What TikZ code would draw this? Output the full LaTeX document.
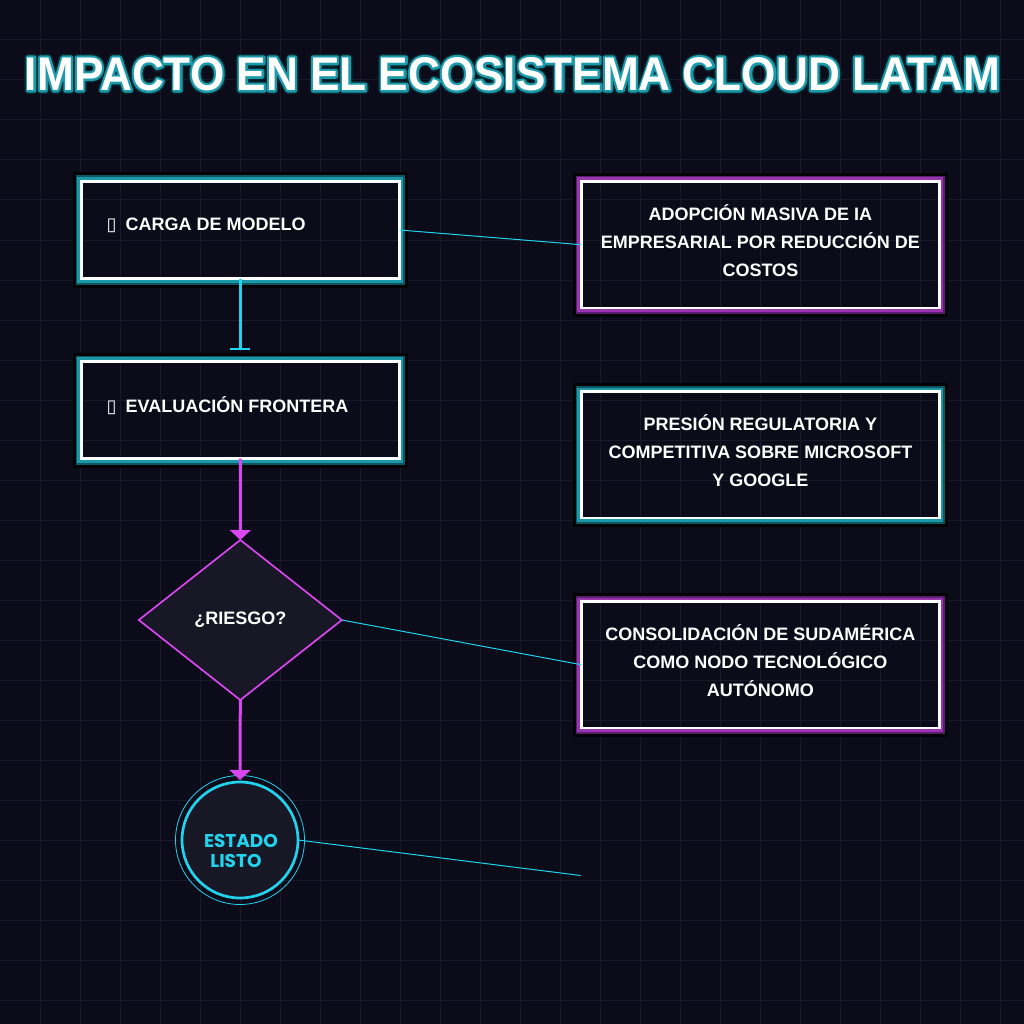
\documentclass[tikz,border=0pt]{standalone}
\usepackage{fontspec}
\usepackage{graphicx}
\setmainfont{Liberation Sans}
\newfontfamily\popfont{Poppins}
\newfontfamily\symfont{DejaVu Sans}
\usetikzlibrary{arrows.meta,shapes.geometric}
\definecolor{bg}{HTML}{0B0B1A}
\definecolor{gridc}{HTML}{191929}
\definecolor{cyanc}{HTML}{22D3EE}
\definecolor{magc}{HTML}{D946EF}
\definecolor{tealA}{HTML}{1A98A8}
\definecolor{tealB}{HTML}{0D5560}
\definecolor{purA}{HTML}{9A35B0}
\definecolor{purB}{HTML}{5A1E6E}
\definecolor{nodefill}{HTML}{171726}
\definecolor{edgec}{HTML}{030306}
\definecolor{ttlglow}{HTML}{1A9AAA}
\definecolor{ttldark}{HTML}{08282E}
\newcommand{\ttltext}{\resizebox{975pt}{33pt}{\bfseries\fontsize{46}{50}\selectfont IMPACTO EN EL ECOSISTEMA CLOUD LATAM}}
\newcommand{\strokedttl}[1]{\special{pdf:literal direct #1 w 1 j 2 Tr}\ttltext\special{pdf:literal direct 0 Tr}}
\newcommand{\glowbox}[3]{%
  \draw[edgec, line width=3pt] ([shift={(-7.3,-7.3)}]#1.north west) rectangle ([shift={(7.3,7.3)}]#1.south east);
  \draw[#3, line width=2pt] ([shift={(-4.8,-4.8)}]#1.north west) rectangle ([shift={(4.8,4.8)}]#1.south east);
  \draw[#2, line width=2.7pt] ([shift={(-2.5,-2.5)}]#1.north west) rectangle ([shift={(2.5,2.5)}]#1.south east);
}
\tikzset{
  card/.style={draw=white, line width=2.7pt, outer sep=0pt, inner sep=0pt, rectangle},
  smallcard/.style={card, minimum width=318.2pt, minimum height=97.4pt},
  bigcard/.style={card, minimum width=358.2pt, minimum height=126.7pt},
  lbl/.style={text=white, font=\bfseries\fontsize{18}{28}\selectfont, inner sep=0pt},
  cardtext/.style={lbl, align=center},
  flowM/.style={magc, line width=3pt, -{Triangle[width=20.7pt,length=10pt]}},
  thinlink/.style={cyanc, line width=1pt},
}
\begin{document}
\begin{tikzpicture}[x=1pt,y=-1pt]
  \fill[bg] (0,0) rectangle (1024,1024);
  \useasboundingbox (0,0) rectangle (1024,1024);
  \foreach \g in {40,80,...,1000} {
    \draw[gridc, line width=1pt] (\g,0) -- (\g,1024);
    \draw[gridc, line width=1pt] (0,\g) -- (1024,\g);
  }
  % title with outline
  \node[text=ttldark, inner sep=0pt] (tdark) at (512.5,74) {\strokedttl{7.5}};
  \node[text=ttlglow, inner sep=0pt] (tglow) at (512.5,74) {\strokedttl{4.5}};
  \node[text=white, inner sep=0pt] (title) at (512.5,74) {\ttltext};

  % left cards
  \node[smallcard] (b1) at (240.4,230) {};
  \node[smallcard] (b2) at (240.4,410) {};
  \glowbox{b1}{tealA}{tealB}
  \glowbox{b2}{tealA}{tealB}
  \node[lbl, anchor=west] (b1t) at (106.5,225.5) {{\symfont ▯}\hspace{4pt} CARGA DE MODELO};
  \node[lbl, anchor=west] (b2t) at (106.5,405.5) {{\symfont ▯}\hspace{4pt} EVALUACIÓN FRONTERA};

  % right cards
  \node[bigcard] (bA) at (760.4,244.7) {};
  \node[bigcard] (bB) at (760.4,454.7) {};
  \node[bigcard] (bC) at (760.4,664.7) {};
  \glowbox{bA}{purA}{purB}
  \glowbox{bB}{tealA}{tealB}
  \glowbox{bC}{purA}{purB}
  \node[cardtext] (bAt) at (760.4,240.7) {ADOPCIÓN MASIVA DE IA\\EMPRESARIAL POR REDUCCIÓN DE\\COSTOS};
  \node[cardtext] (bBt) at (760.4,450.7) {PRESIÓN REGULATORIA Y\\COMPETITIVA SOBRE MICROSOFT\\Y GOOGLE};
  \node[cardtext] (bCt) at (760.4,660.7) {CONSOLIDACIÓN DE SUDAMÉRICA\\COMO NODO TECNOLÓGICO\\AUTÓNOMO};

  % decision
  \node[diamond, draw=magc, line width=1.7pt, fill=nodefill, minimum width=203pt,
        minimum height=160pt, inner sep=0pt, outer sep=0pt, text=white,
        font=\bfseries\fontsize{18}{20}\selectfont] (dia) at (240.3,620) {¿RIESGO?};

  % end state
  \node[circle, draw=cyanc, line width=2.7pt, fill=nodefill, minimum size=116pt,
        inner sep=0pt, outer sep=0pt] (done) at (240,840) {};
  \draw[cyanc, line width=0.8pt] (done.center) circle[radius=64.5];
  \node[text=cyanc, font=\popfont\bfseries\fontsize{18.5}{20}\selectfont, align=center,
        inner sep=0pt] (donet) at (241,851) {ESTADO\\LISTO\hspace*{10pt}};

  \coordinate (dend) at (580.7,875.5);

  % connectors
  \draw[cyanc, line width=3.3pt, -{Bar[width=20pt,line width=2.2pt]}, shorten >=11pt] (b1.south) -- (b2.north);
  \draw[flowM] (b2.south) -- (dia.north);
  \draw[flowM, shorten >=2pt] (dia.south) -- (done.north);
  \draw[thinlink] (b1.east) -- (bA.west);
  \draw[thinlink] (dia.east) -- (bC.west);
  \draw[thinlink] (done.east) -- (dend);
\end{tikzpicture}
\end{document}
